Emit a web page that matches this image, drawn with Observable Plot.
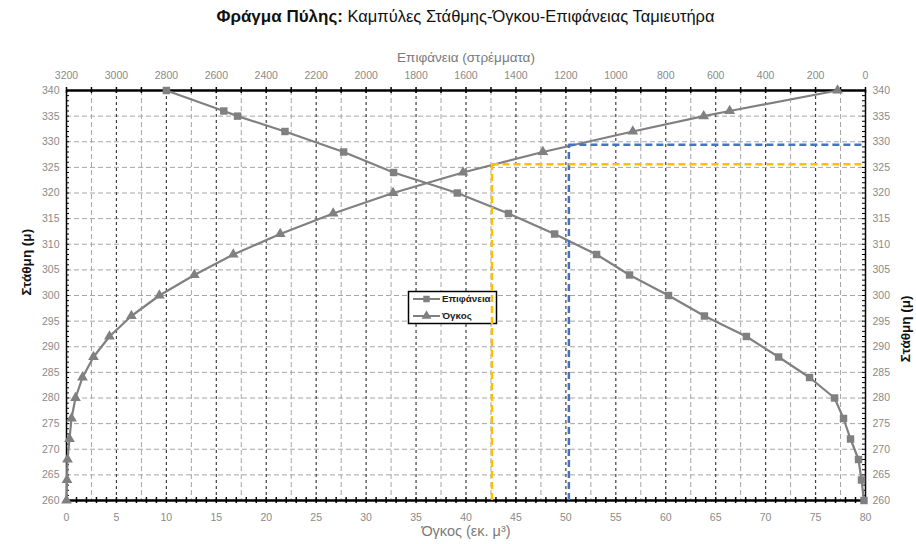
<!DOCTYPE html>
<html><head><meta charset="utf-8">
<script src="https://cdn.jsdelivr.net/npm/d3@7"></script>
<script src="https://cdn.jsdelivr.net/npm/@observablehq/plot@0.6"></script>
<style>
body{margin:0;background:#fff;font-family:"Liberation Sans",Arial,sans-serif;}
#wrap{position:relative;width:916px;height:544px;}
#chart{position:absolute;left:0;top:0;}
#title{position:absolute;left:66px;width:799px;top:7px;text-align:center;font-size:16.5px;color:#111;}
#title b{font-size:17px;}
</style></head><body>
<div id="wrap"><div id="chart"></div><div id="title"><b>Φράγμα Πύλης:</b> Καμπύλες Στάθμης-Όγκου-Επιφάνειας Ταμιευτήρα</div></div>
<script>
// Level-Area curve (Επιφάνεια, στρέμματα)
const areaLevels = [340,336,335,332,328,324,320,316,312,308,304,300,296,292,288,284,280,276,272,268,264,260];
const areaValues = [2800,2570,2515,2325,2090,1890,1635,1430,1245,1077,945,789,645,477,348,224,124,88,60,28,16,6];
// Level-Volume curve (Όγκος, εκ. μ³)
const volumeLevels = [260,264,268,272,276,280,284,288,292,296,300,304,308,312,316,320,324,328,332,335,336,340];
const volumeValues = [0,0.05,0.1,0.3,0.5,0.9,1.6,2.7,4.3,6.5,9.3,12.8,16.7,21.4,26.7,32.7,39.7,47.7,56.7,63.8,66.4,77.2];
// Reference dashed lines
const refVolumes = [42.6, 50.3];
const refLevels = [325.6, 329.4];
const refColors = ["#FFC000", "#4472C4"];
// Axis tick labels
const volumeTicks = [0,5,10,15,20,25,30,35,40,45,50,55,60,65,70,75,80];
const areaTickLabels = [3200,3000,2800,2600,2400,2200,2000,1800,1600,1400,1200,1000,800,600,400,200,0];
const levelTicks = [260,265,270,275,280,285,290,295,300,305,310,315,320,325,330,335,340];
const seriesNames = ["Επιφάνεια", "Όγκος"];

const areaMax = 3200, volMax = 80;
const areaToX = a => (areaMax - a) * volMax / areaMax;

const areaData = areaLevels.map((l, i) => ({level: l, x: areaToX(areaValues[i])}));
const volData = volumeLevels.map((l, i) => ({level: l, x: volumeValues[i]}));
const refData = refVolumes.map((v, i) => ({v, level: refLevels[i], color: refColors[i]}));

const gray = "#808080";
const txt = "#8a8a8a";

function legendMark() {
  const g = d3.create("svg:g");
  g.append("rect").attr("x", 408.5).attr("y", 291.5).attr("width", 88).attr("height", 32)
    .attr("fill", "white").attr("stroke", "black").attr("stroke-width", 1.5);
  const rows = [{y: 299, sym: d3.symbolSquare}, {y: 316, sym: d3.symbolTriangle}];
  rows.forEach((r, i) => {
    g.append("line").attr("x1", 413).attr("x2", 440).attr("y1", r.y).attr("y2", r.y)
      .attr("stroke", gray).attr("stroke-width", 2);
    g.append("path").attr("d", d3.symbol(r.sym, 42)()).attr("transform", `translate(426.5,${r.y})`)
      .attr("fill", gray).attr("stroke", "none");
    g.append("text").attr("x", 442).attr("y", r.y).attr("dy", "0.35em").attr("font-size", 9.8)
      .attr("text-anchor", "start").attr("font-weight", "bold").attr("fill", "#222").text(seriesNames[i]);
  });
  return g.node();
}

const chart = Plot.plot({
  width: 916,
  height: 544,
  marginTop: 90,
  marginBottom: 44,
  marginLeft: 66,
  marginRight: 51,
  style: {fontFamily: '"Liberation Sans",Arial,sans-serif', background: "white"},
  x: {domain: [0, 80]},
  y: {domain: [260, 340]},
  marks: [
    // grid
    Plot.gridY({ticks: d3.range(265, 340, 5), stroke: "#a6a6a6", strokeOpacity: 1, strokeWidth: 1, strokeDasharray: "5,3"}),
    Plot.gridX({ticks: d3.range(2.5, 80, 5), stroke: "#a6a6a6", strokeOpacity: 1, strokeWidth: 1, strokeDasharray: "5,3"}),
    Plot.gridX({ticks: d3.range(5, 80, 5), stroke: "#404040", strokeOpacity: 1, strokeWidth: 1.2, strokeDasharray: "3,3"}),
    // minor ticks
    Plot.tickX(d3.range(0, 80.01, 1), {x: d => d, insetTop: 407, insetBottom: -3, stroke: "black", strokeWidth: 1.5}),
    Plot.tickX(d3.range(0, 80.01, 2.5), {x: d => d, insetTop: -3, insetBottom: 407, stroke: "black", strokeWidth: 1.5}),
    Plot.tickY(d3.range(260, 340.01, 1), {y: d => d, insetLeft: 0, insetRight: 796, stroke: "black", strokeWidth: 1}),
    Plot.tickY(d3.range(260, 340.01, 1), {y: d => d, insetLeft: 796, insetRight: 0, stroke: "black", strokeWidth: 1}),
    // frame
    Plot.ruleX([0, 80], {stroke: "black", strokeWidth: 1.5}),
    Plot.ruleY([260, 340], {stroke: "black", strokeWidth: 2.5}),
    // axes labels
    Plot.axisX({anchor: "bottom", ticks: volumeTicks, tickSize: 0, tickPadding: 13, fontSize: 10.5, color: txt, label: null}),
    Plot.axisX({anchor: "top", ticks: volumeTicks, tickFormat: (v) => String(areaTickLabels[volumeTicks.indexOf(v)]), tickSize: 0, tickPadding: 12, fontSize: 10.5, color: txt, label: null}),
    Plot.axisY({anchor: "left", ticks: levelTicks, tickSize: 0, tickPadding: 7, fontSize: 10.5, color: txt, label: null}),
    Plot.axisY({anchor: "right", ticks: levelTicks, tickSize: 0, tickPadding: 7, fontSize: 10.5, color: txt, label: null}),
    Plot.text(["Όγκος (εκ. μ³)"], {text: d => d, frameAnchor: "bottom", dy: 35, fontSize: 14.5, fill: "#7a7a7a"}),
    Plot.text(["Επιφάνεια (στρέμματα)"], {text: d => d, frameAnchor: "top", dy: -38, fontSize: 13.5, fill: "#7a7a7a"}),
    Plot.text(["Στάθμη (μ)"], {text: d => d, frameAnchor: "left", dx: -40, rotate: -90, fontSize: 13.5, fontWeight: "bold", fill: "#111"}),
    Plot.text(["Στάθμη (μ)"], {text: d => d, frameAnchor: "right", dx: 40, rotate: -90, fontSize: 13.5, fontWeight: "bold", fill: "#111"}),
    // curves
    Plot.line(areaData, {x: "x", y: "level", stroke: gray, strokeWidth: 2.2}),
    Plot.dot(areaData, {x: "x", y: "level", symbol: "square", r: 4.2, fill: gray}),
    Plot.line(volData, {x: "x", y: "level", stroke: gray, strokeWidth: 2.2}),
    Plot.dot(volData, {x: "x", y: "level", symbol: "triangle", r: 4, fill: gray}),
    // legend
    legendMark,
    // reference lines
    Plot.ruleX(refData, {x: "v", y1: 260, y2: "level", stroke: "color", strokeWidth: 2.5, strokeDasharray: "7,4"}),
    Plot.ruleY(refData, {y: "level", x1: "v", x2: 80, stroke: "color", strokeWidth: 2.5, strokeDasharray: "7,4"})
  ]
});
document.getElementById("chart").appendChild(chart);
</script>
</body></html>
